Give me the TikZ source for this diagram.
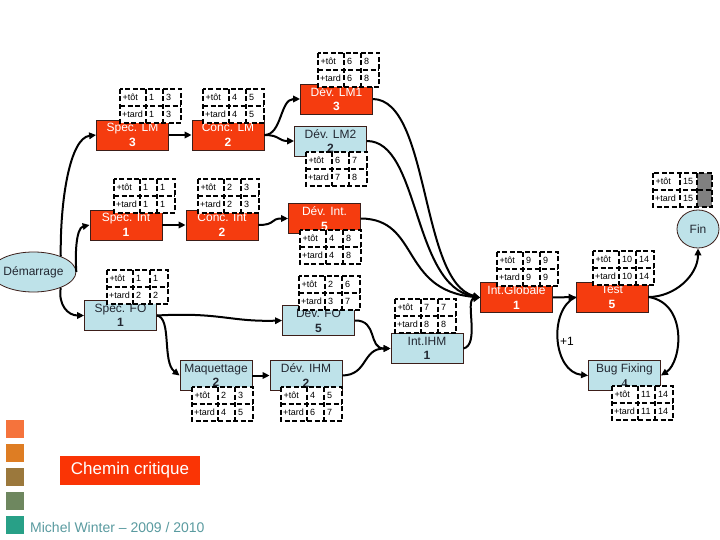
\documentclass[tikz,border=0pt]{standalone}
\usepackage{fontspec}
\setmainfont{Liberation Sans}
\newfontfamily\serifnum{Liberation Serif}
\usetikzlibrary{shapes.geometric,arrows.meta}
\definecolor{critred}{RGB}{245,60,15}
\definecolor{legred}{RGB}{250,52,5}
\definecolor{lightblu}{RGB}{190,226,233}
\definecolor{textdark}{RGB}{35,40,50}
\definecolor{boxline}{RGB}{60,30,25}
\definecolor{sqa}{RGB}{245,115,60}
\definecolor{sqb}{RGB}{222,125,35}
\definecolor{sqc}{RGB}{155,120,60}
\definecolor{sqd}{RGB}{110,135,95}
\definecolor{sqe}{RGB}{40,160,135}
\definecolor{authc}{RGB}{90,155,160}
\definecolor{cellgray}{RGB}{128,128,128}
\tikzset{
  task/.style={draw=boxline, line width=0.8pt, minimum width=72pt, minimum height=30pt,
    inner sep=0pt, align=center, font=\fontsize{12}{14.5}\selectfont},
  crit/.style={task, fill=critred, text=white},
  norm/.style={task, fill=lightblu, text=textdark},
  tbl/.style={line width=2pt, dash pattern=on 5pt off 2.5pt},
  cell/.style={font=\fontsize{9}{10}\selectfont, inner sep=0pt, anchor=west},
  conn/.style={line width=2pt, -{Triangle[length=7pt,width=6.5pt]}},
  evt/.style={ellipse, draw=boxline, line width=0.8pt, fill=lightblu, inner sep=0pt,
    font=\fontsize{12}{14}\selectfont, text=textdark},
}
\newcommand{\ptab}[7]{%
  \begin{scope}[shift={(#2,#3)}]
    \fill[white] (0,0) rectangle (61,34);
    \draw[tbl] (0,0) rectangle (61,34);
    \draw[tbl] (0,17) -- (61,17);
    \draw[tbl] (26,0) -- (26,34);
    \draw[tbl] (43,0) -- (43,34);
    \node[cell] (#1t0) at (2.5,8.5) {+tôt};
    \node[cell] (#1t1) at (29,8.5) {#4};
    \node[cell] (#1t2) at (46,8.5) {#5};
    \node[cell] (#1d0) at (2,25.5) {+tard};
    \node[cell] (#1d1) at (29,25.5) {#6};
    \node[cell] (#1d2) at (46,25.5) {#7};
  \end{scope}}
\begin{document}
\begin{tikzpicture}[x=1pt,y=-1pt]
\useasboundingbox (0,0) rectangle (720,540);
\fill[white] (0,0) rectangle (720,540);

% events
\node[evt, minimum width=67pt, minimum height=40pt] (dem) at (33.5,272) {Démarrage};
\node[evt, minimum width=42pt, minimum height=38pt] (fin) at (698,229) {Fin};

% tasks
\node[crit] (slm) at (132.5,135) {Spec. LM\\\textbf{3}};
\node[crit] (clm) at (228,135) {Conc. LM\\\textbf{2}};
\node[crit] (sint) at (126,225) {Spec. Int\\\textbf{1}};
\node[crit] (cint) at (222,225) {Conc. Int\\\textbf{2}};
\node[norm] (spfo) at (120.5,315.5) {Spec. FO\\\textbf{1}};
\node[crit] (dlm1) at (336.5,99) {Dév. LM1\\\textbf{3}};
\node[norm] (dlm2) at (330.5,141) {Dév. LM2\\\textbf{2}};
\node[crit] (dint) at (324.5,218.5) {Dév. Int.\\\textbf{5}};
\node[norm] (dfo) at (318.5,320.5) {Dév. FO\\\textbf{5}};
\node[norm] (iihm) at (427,348.5) {Int.IHM\\\textbf{1}};
\node[crit] (iglob) at (516.5,297.5) {Int.Globale\\\textbf{1}};
\node[crit] (test) at (612,297) {Test\\\textbf{5}};
\node[norm] (maq) at (216,375.5) {Maquettage\\\textbf{2}};
\node[norm] (dihm) at (306,375.5) {Dév. IHM\\\textbf{2}};
\node[norm] (bug) at (624.5,375.5) {Bug Fixing\\{\serifnum\bfseries 4}};

% tables
\ptab{slm}{120}{89}{1}{3}{1}{3}
\ptab{clm}{203}{89}{4}{5}{4}{5}
\ptab{sint}{114}{179}{1}{1}{1}{1}
\ptab{cint}{198}{179}{2}{3}{2}{3}
\ptab{spfo}{107}{270}{1}{1}{2}{2}
\ptab{dlmA}{318}{53}{6}{8}{6}{8}
\ptab{dlmB}{306}{152}{6}{7}{7}{8}
\ptab{dint}{300}{230}{4}{8}{4}{8}
\ptab{dfo}{299}{276}{2}{6}{3}{7}
\ptab{iihm}{395}{299}{7}{7}{8}{8}
\ptab{iglob}{497}{252}{9}{9}{9}{9}
\ptab{test}{593}{251}{10}{14}{10}{14}
\ptab{maq}{192}{387}{2}{3}{4}{5}
\ptab{dihm}{281}{387}{4}{5}{6}{7}
\ptab{bug}{612}{386}{11}{14}{11}{14}
% Fin table
\begin{scope}[shift={(653,173)}]
  \fill[white] (0,0) rectangle (59,34);
  \fill[cellgray] (44,0) rectangle (59,34);
  \draw[tbl] (0,0) rectangle (59,34);
  \draw[tbl] (0,17) -- (59,17);
  \draw[tbl] (27,0) -- (27,34);
  \draw[tbl] (44,0) -- (44,34);
  \node[cell] (fint0) at (2.5,8.5) {+tôt};
  \node[cell] (fint1) at (30,8.5) {15};
  \node[cell] (find0) at (2,25.5) {+tard};
  \node[cell] (find1) at (30,25.5) {15};
\end{scope}

% connectors
\draw[conn] (dem.30) .. controls (60,200) and (70,138) .. (slm.west);
\draw[conn] (dem.east) .. controls (75,255) and (76,228) .. (sint.west);
\draw[conn] (dem.-30) .. controls (58,305) and (68,315.5) .. (spfo.west);
\draw[conn] (slm.east) -- (clm.west);
\draw[conn] (sint.east) -- (cint.west);
\draw[conn] (clm.east) .. controls (282,135) and (280,99) .. (dlm1.west);
\draw[conn] (clm.east) .. controls (280,135) and (278,141) .. (dlm2.west);
\draw[conn] (cint.east) .. controls (276,225) and (270,218.5) .. (dint.west);
\draw[conn] (spfo.east) .. controls (220,312) and (230,322) .. (dfo.west);
\draw[conn] (spfo.east) .. controls (172,318) and (162,362) .. (maq.west);
\draw[conn] (maq.east) -- (dihm.west);
\draw[conn] (dihm.east) .. controls (368,375) and (362,348.5) .. (iihm.west);
\draw[conn] (dfo.east) .. controls (378,320) and (368,348.5) .. (iihm.west);
\draw[conn] (dlm1.east) .. controls (430,100) and (420,282) .. (iglob.west);
\draw[conn] (dlm2.east) .. controls (420,141) and (412,286) .. (iglob.west);
\draw[conn] (dint.east) .. controls (420,219) and (400,290) .. (iglob.west);
\draw[conn] (iihm.east) .. controls (480,345) and (465,300) .. (iglob.west);
\draw[conn] (iglob.east) -- (test.west);
\draw[conn] (test.east) .. controls (675,297) and (698,275) .. (fin.south);
\draw[conn] (test.east) .. controls (688,303) and (682,362) .. (bug.east);
\draw[conn] (test.west) .. controls (548,310) and (553,372) .. (bug.west);
\node[font=\fontsize{12}{14}\selectfont, inner sep=0pt] (plusone) at (567,341) {+1};

% legend
\fill[sqa] (6,420) rectangle (24,438);
\fill[sqb] (6,444) rectangle (24,462);
\fill[sqc] (6,468) rectangle (24,486);
\fill[sqd] (6,492) rectangle (24,510);
\fill[sqe] (6,516) rectangle (24,534);
\node[fill=legred, text=white, minimum width=140pt, minimum height=29pt, inner sep=0pt,
  font=\fontsize{17}{20}\selectfont] (crit) at (130,470.5) {Chemin critique};
\node[anchor=west, text=authc, inner sep=0pt, font=\fontsize{14}{16}\selectfont] (author) at (30,527) {Michel Winter -- 2009 / 2010};
\end{tikzpicture}
\end{document}
